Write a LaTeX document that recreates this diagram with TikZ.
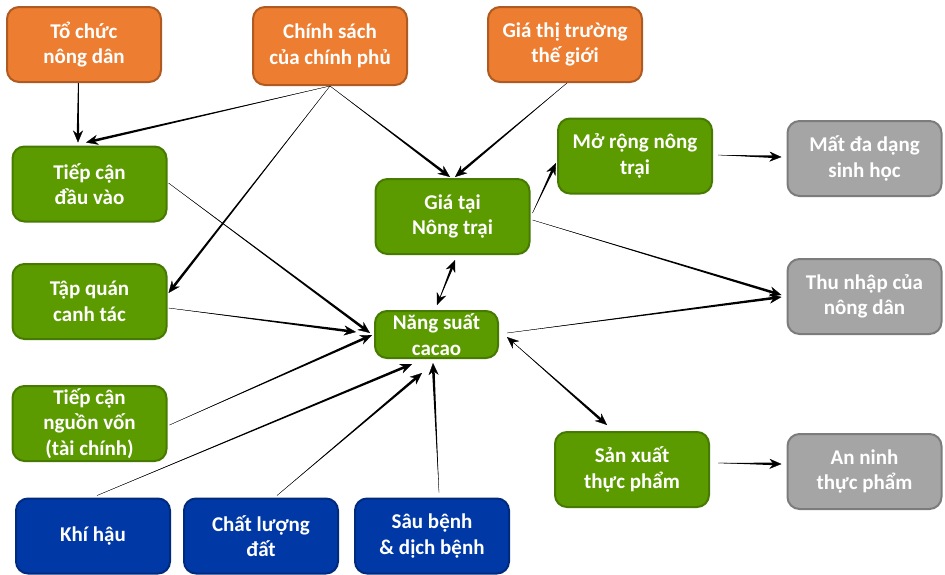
\documentclass[tikz,border=0pt]{standalone}
\usepackage{fontspec}
\setmainfont{Carlito}
\usetikzlibrary{arrows.meta,calc}

\definecolor{orgFill}{HTML}{ED7D31}
\definecolor{orgLine}{HTML}{AE5A21}
\definecolor{grnFill}{HTML}{5B9B00}
\definecolor{grnLine}{HTML}{467A00}
\definecolor{bluFill}{HTML}{0039A6}
\definecolor{bluLine}{HTML}{002A7E}
\definecolor{gryFill}{HTML}{A5A5A5}
\definecolor{gryLine}{HTML}{7C7C7C}

\tikzset{
  box/.style={rounded corners=12pt, line width=2pt, align=center, inner sep=0pt,
    minimum width=154pt, minimum height=75pt, text=white,
    font=\fontsize{21}{25.5}\selectfont\bfseries},
  orangebox/.style={box, fill=orgFill, draw=orgLine},
  greenbox/.style={box, fill=grnFill, draw=grnLine},
  bluebox/.style={box, fill=bluFill, draw=bluLine},
  greybox/.style={box, fill=gryFill, draw=gryLine},
  linkfill/.style={fill=black},
  linkline/.style={draw=black, line width=0.3pt},
  headtip/.tip={Stealth[length=12pt 0,width=10pt 0]}
}

% tapered connector: hairline at the source, widening towards the arrow head
\newcommand\taperlink[2]{%
  \coordinate (lkA) at (#1);
  \coordinate (lkB) at (#2);
  \coordinate (lkC) at ($(lkB)!7pt!(lkA)$);
  \fill[linkfill] (lkA) -- ($(lkC)!1.3pt!90:(lkA)$) -- ($(lkC)!1.3pt!-90:(lkA)$) -- cycle;
  \draw[linkline, -{headtip}] (lkA) -- (lkB);
}
% same, with heads at both ends
\newcommand\taperboth[2]{%
  \coordinate (lkA) at (#1);
  \coordinate (lkB) at (#2);
  \coordinate (lkC) at ($(lkB)!7pt!(lkA)$);
  \fill[linkfill] (lkA) -- ($(lkC)!1.3pt!90:(lkA)$) -- ($(lkC)!1.3pt!-90:(lkA)$) -- cycle;
  \draw[linkline, {headtip}-{headtip}] (lkA) -- (lkB);
}

\begin{document}
\begin{tikzpicture}[x=1pt, y=-1pt]
\useasboundingbox (0,0) rectangle (945,574);

% drivers
\node[orangebox] (tochuc)    at (84,44.5)  {Tổ chức\\nông dân};
\node[orangebox, minimum height=78pt] (chinhsach) at (330,46) {Chính sách\\của chính phủ};
\node[orangebox] (giatt)     at (565,44.5) {Giá thị trường\\thế giới};

% farm level factors
\node[greenbox] (tiepcan)  at (89.5,184)   {Tiếp cận\\đầu vào};
\node[greenbox] (tapquan)  at (89.5,301.5) {Tập quán\\canh tác};
\node[greenbox] (nguonvon) at (89.5,423.5) {Tiếp cận\\nguồn vốn\\(tài chính)};
\node[greenbox] (giatai)   at (452.5,216.5) {Giá tại\\Nông trại};
\node[greenbox, minimum width=123pt, minimum height=47pt] (nangsuat) at (436.5,334.5) {Năng suất\\cacao};
\node[greenbox] (morong)   at (635,156)    {Mở rộng nông\\trại};
\node[greenbox] (sanxuat)  at (632,469.5)  {Sản xuất\\thực phẩm};

% outcomes
\node[greybox] (matda)   at (864.5,158.5) {Mất đa dạng\\sinh học};
\node[greybox] (thunhap) at (864.5,296.5) {Thu nhập của\\nông dân};
\node[greybox] (anninh)  at (864.5,471.5) {An ninh\\thực phẩm};

% environment
\node[bluebox] (khihau)    at (93,536)  {Khí hậu};
\node[bluebox] (chatluong) at (261,536) {Chất lượng\\đất};
\node[bluebox] (saubenh)   at (432,536) {Sâu bệnh\\\& dịch bệnh};

% connectors
\taperlink{[xshift=-6pt]tochuc.south}{[xshift=-11.5pt,yshift=3pt]tiepcan.north}
\taperlink{chinhsach.south}{[xshift=-3.5pt,yshift=3pt]tiepcan.north}
\taperlink{chinhsach.south}{[xshift=-2.5pt,yshift=1pt]giatai.north}
\taperlink{chinhsach.south}{[xshift=1pt,yshift=8.5pt]tapquan.east}
\taperlink{[xshift=2pt]giatt.south}{[xshift=2.5pt,yshift=1pt]giatai.north}

\taperlink{[xshift=1pt,yshift=1pt]tiepcan.east}{[xshift=-4pt,yshift=1.5pt]nangsuat.west}
\taperlink{[xshift=1pt,yshift=-6.5pt]tapquan.east}{[xshift=-18pt,yshift=2.5pt]nangsuat.west}
\taperlink{[xshift=2pt,yshift=-1.5pt]nguonvon.east}{[xshift=-2pt,yshift=-0.5pt]nangsuat.west}
\taperlink{[xshift=4pt,yshift=2pt]khihau.north}{[xshift=-24.5pt,yshift=-5pt]nangsuat.south}
\taperlink{[xshift=16pt,yshift=2pt]chatluong.north}{[xshift=-14.5pt,yshift=-14pt]nangsuat.south}
\taperlink{[xshift=7pt,yshift=5pt]saubenh.north}{[xshift=-3.5pt,yshift=-4pt]nangsuat.south}

\taperboth{[xshift=0.5pt,yshift=5pt]nangsuat.north}{[xshift=2.5pt,yshift=-5pt]giatai.south}
\taperlink{[xshift=2pt,yshift=3.5pt]giatai.east}{[xshift=-1pt,yshift=-7pt]morong.west}
\taperlink{[xshift=5pt,yshift=1pt]morong.east}{[xshift=-5pt,yshift=1.5pt]matda.west}
\taperlink{[xshift=2pt,yshift=-3.5pt]giatai.east}{[xshift=-5pt,yshift=1.5pt]thunhap.west}
\taperlink{[xshift=8pt,yshift=1.5pt]nangsuat.east}{[xshift=-5pt,yshift=-0.5pt]thunhap.west}
\taperboth{[xshift=8pt,yshift=-2.5pt]nangsuat.east}{[xshift=-25pt,yshift=6pt]sanxuat.north}
\taperlink{[xshift=8pt,yshift=6.5pt]sanxuat.east}{[xshift=-5pt,yshift=7.5pt]anninh.west}
\end{tikzpicture}
\end{document}
